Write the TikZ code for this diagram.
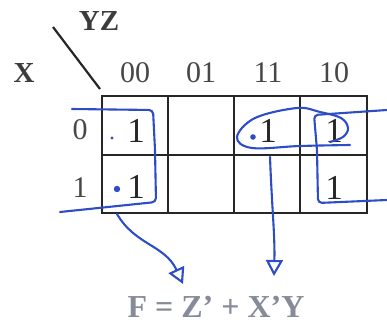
\documentclass[tikz,border=0pt]{standalone}
\usepackage{fontspec}
\setmainfont{Liberation Serif}
\usetikzlibrary{arrows.meta}
\definecolor{PenBlue}{HTML}{2D4CC6}
\definecolor{GridInk}{HTML}{262626}
\definecolor{AnsGray}{HTML}{868B99}

\begin{document}
\begin{tikzpicture}[x=1pt, y=-1pt,
  gridline/.style={draw=GridInk, line width=1.4pt},
  header/.style={font=\fontsize{30}{30}\selectfont, text=GridInk!85, inner sep=0pt},
  varlabel/.style={font=\bfseries\fontsize{29}{29}\selectfont, text=GridInk!90, inner sep=0pt},
  entry/.style={font=\fontsize{35}{35}\selectfont, text=GridInk, inner sep=0pt},
  pen/.style={draw=PenBlue, line width=2.1pt, line cap=round, line join=round},
  penarrow/.style={pen, -{Triangle[open, length=16pt, width=17pt, line width=2.1pt]}},
  inkdot/.style={fill=PenBlue}
]
\useasboundingbox (0,0) rectangle (387,326);

% variable labels and the split line
\node[varlabel] (yz) at (99,21) {YZ};
\node[varlabel] (xv) at (24,73) {X};
\draw[draw=GridInk, line width=2.2pt] (53,27) -- (100,89);

% column and row headers
\node[header] (h00) at (135,73) {00};
\node[header] (h01) at (201,73) {01};
\node[header] (h11) at (268,73) {11};
\node[header] (h10) at (334,73) {10};
\node[header] (r0) at (80,130) {0};
\node[header] (r1) at (80,188) {1};

% the map
\draw[gridline] (168,96) -- (168,213) (234,96) -- (234,213) (300,96) -- (300,213);
\draw[gridline] (102,155) -- (367,155);
\draw[draw=GridInk, line width=2.8pt] (102,96) rectangle (367,213);

\node[entry] (m00) at (136,131) {1};
\node[entry] (m10) at (136,187) {1};
\node[entry] (m03) at (268,131) {1};
\node[entry] (m02) at (334,131) {1};
\node[entry] (m12) at (334,188) {1};

% pen marks
\fill[inkdot] (112,138) circle (1.7);
\fill[inkdot] (117,189) circle (3.2);
\fill[inkdot] (253,137) circle (2.8);

\draw[pen, rounded corners=4pt] (72,109) -- (153,110) -- (155,150) -- (156,202) -- (60,212);
\draw[pen, rounded corners=4pt] (387,110) -- (314,115) -- (317,150) -- (318,203) -- (387,200);
\draw[pen] plot[smooth, tension=0.6] coordinates {(350,145) (300,146) (252,148) (237,137) (255,118) (297,108) (320,112) (341,118) (348,128) (343,137) (330,142)};

% result
\node[font=\bfseries\fontsize{32}{32}\selectfont, text=AnsGray, inner sep=0pt] (fz) at (216,307) {F = Z’ + X’Y};
\coordinate (zq) at (117,214);
\coordinate (zqend) at (183,284);
\coordinate (xyq) at (270,157);
\coordinate (xyqend) at (274,276);
\draw[penarrow] (zq) .. controls (135,245) and (165,245) .. (zqend);
\draw[penarrow] (xyq) .. controls (272,210) and (275,235) .. (xyqend);
\end{tikzpicture}
\end{document}
